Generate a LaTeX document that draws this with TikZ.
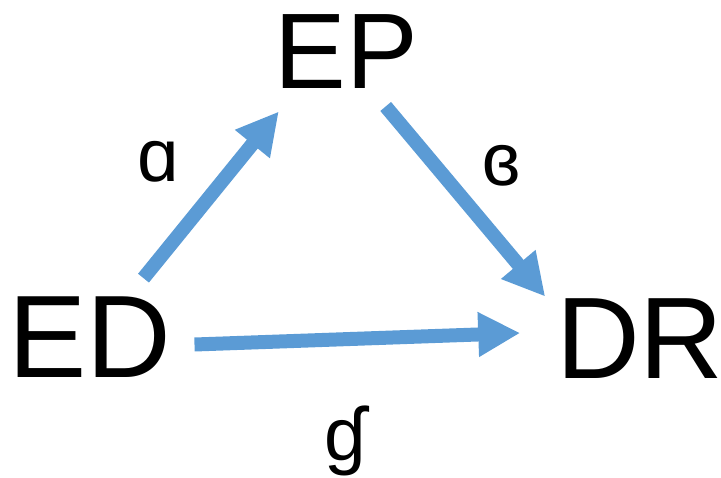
\documentclass[tikz,border=0pt]{standalone}
\usepackage{fontspec}
\setmainfont{Liberation Sans}
\newfontfamily\ipafont{DejaVu Sans}
\usetikzlibrary{arrows.meta,calc}

\definecolor{flowblue}{HTML}{5B9BD5}

\tikzset{
    state/.style={inner sep=0pt, outer sep=0pt},
    rate/.style={inner sep=0pt, font=\fontsize{56}{60}\selectfont},
    flow/.style={draw=flowblue, line width=10.5pt,
        -{Triangle[length=31.5pt, width=31.5pt]}},
}

\begin{document}
\begin{tikzpicture}[x=0.75pt, y=-0.75pt]

        % Fix the page to the size of the reference.
        \useasboundingbox (0, 0) rectangle (721, 478);

        % The three states.
        \node[state, font=\fontsize{80.6}{90}\selectfont] (EP) at (346, 51.5) {EP};
        \node[state, font=\fontsize{88}{96}\selectfont]   (ED) at (90, 337.5) {ED};
        \node[state, font=\fontsize{87}{96}\selectfont]   (DR) at (640, 338.5) {DR};

        % Transitions between the states.
        \draw[flow] ($(ED.north east)+(-28, -19)$) to ($(EP.south west)+(4.5, 23)$);
        \draw[flow] ($(EP.south east)+(-32, 18)$)  to ($(DR.north west)+(-11, -2)$);
        \draw[flow] ($(ED.east)+(23, 7)$)          to ($(DR.west)+(-36, -5.5)$);

        % Rate labels.
        \node[rate] (alpha) at (158, 162) {ɑ};
        \node[rate] (beta)  at (501, 166) {ɞ};
        \node[rate] (gamma) at (345, 441) {ɠ};
    \end{tikzpicture}
\end{document}
